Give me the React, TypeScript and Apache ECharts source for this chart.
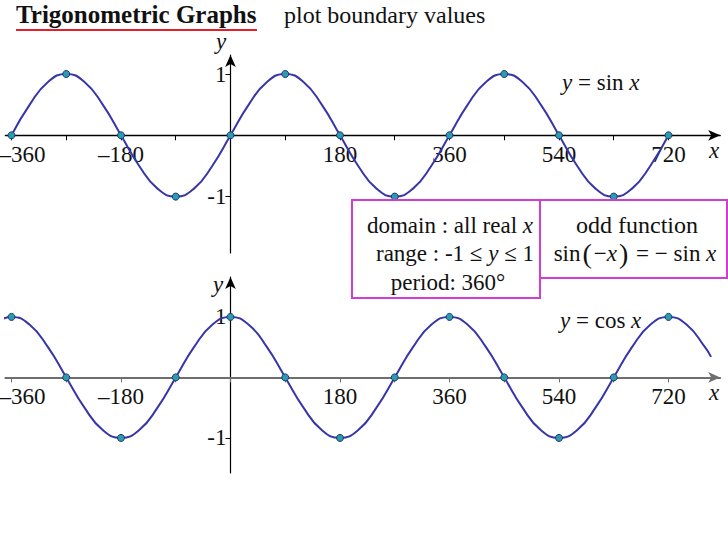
import React, { useEffect, useRef } from 'react';
import * as echarts from 'echarts';

// sampled points of y = sin x (degrees)
const sinX = [-360, -330, -300, -270, -240, -210, -180, -150, -120, -90, -60, -30, 0, 30, 60, 90, 120, 150, 180, 210, 240, 270, 300, 330, 360, 390, 420, 450, 480, 510, 540, 570, 600, 630, 660, 690, 720];
const sinY = [0, 0.5, 0.87, 1, 0.87, 0.5, 0, -0.5, -0.87, -1, -0.87, -0.5, 0, 0.5, 0.87, 1, 0.87, 0.5, 0, -0.5, -0.87, -1, -0.87, -0.5, 0, 0.5, 0.87, 1, 0.87, 0.5, 0, -0.5, -0.87, -1, -0.87, -0.5, 0];
// sampled points of y = cos x (degrees)
const cosX = [-380, -360, -330, -300, -270, -240, -210, -180, -150, -120, -90, -60, -30, 0, 30, 60, 90, 120, 150, 180, 210, 240, 270, 300, 330, 360, 390, 420, 450, 480, 510, 540, 570, 600, 630, 660, 690, 720, 750, 780, 790];
const cosY = [0.94, 1, 0.87, 0.5, 0, -0.5, -0.87, -1, -0.87, -0.5, 0, 0.5, 0.87, 1, 0.87, 0.5, 0, -0.5, -0.87, -1, -0.87, -0.5, 0, 0.5, 0.87, 1, 0.87, 0.5, 0, -0.5, -0.87, -1, -0.87, -0.5, 0, 0.5, 0.87, 1, 0.87, 0.5, 0.34];
// boundary values (plotted points)
const boundaryX = [-360, -270, -180, -90, 0, 90, 180, 270, 360, 450, 540, 630, 720];
const sinBoundaryY = [0, 1, 0, -1, 0, 1, 0, -1, 0, 1, 0, -1, 0];
const cosBoundaryY = [1, 0, -1, 0, 1, 0, -1, 0, 1, 0, -1, 0, 1];
// axes
const xTickValues = [-360, -270, -180, -90, 0, 90, 180, 270, 360, 450, 540, 630, 720];
const xLabelValues = [-360, -180, 180, 360, 540, 720];
const xLabelTexts = ['–360', '–180', '180', '360', '540', '720'];
const yLabelValues = [-1, 1];
const yLabelTexts = ['-1', '1'];

const SERIF = "'Liberation Serif', 'Times New Roman', serif";
const LINE = '#3636a8';
const DOT = '#2a9cac';
const DOT_BORDER = '#1f3478';
const MAGENTA = '#d33cd3';

const X_MIN = -370;
const X_MAX = 805;
const GRID_LEFT = 5.4;
const GRID_WIDTH = 714.8;
const G1 = { top: 55, height: 198, min: -1.92, max: 1.31 };
const G2 = { top: 277, height: 196, min: -1.58, max: 1.66 };

function xAxisDef(gridIndex: number, g: typeof G1, color: string, width: number) {
  const offset = -(g.height * (-g.min)) / (g.max - g.min);
  return {
    type: 'value',
    gridIndex,
    min: X_MIN,
    max: X_MAX,
    position: 'bottom',
    offset,
    axisLine: {
      onZero: false,
      symbol: ['none', 'arrow'],
      symbolSize: [8, 12],
      lineStyle: { color, width },
    },
    axisTick: { customValues: xTickValues, length: 5, lineStyle: { color, width: 1 } },
    axisLabel: {
      customValues: xLabelValues,
      margin: 8,
      color: '#111',
      fontFamily: SERIF,
      fontSize: 23,
      formatter: (v: number) => {
        const i = xLabelValues.indexOf(v);
        const t = i >= 0 ? xLabelTexts[i] : '';
        return v === -360 ? '{m|' + t + '}' : t;
      },
      rich: { m: { padding: [0, 0, 0, 22], fontFamily: SERIF, fontSize: 23, color: '#111' } },
    },
    splitLine: { show: false },
  };
}

function yAxisDef(gridIndex: number, g: typeof G1) {
  const offset = -((0 - X_MIN) / (X_MAX - X_MIN)) * GRID_WIDTH;
  return {
    type: 'value',
    gridIndex,
    min: g.min,
    max: g.max,
    position: 'left',
    offset,
    axisLine: {
      show: true,
      onZero: false,
      symbol: ['none', 'arrow'],
      symbolSize: [8, 12],
      lineStyle: { color: '#000', width: 1.2 },
    },
    axisTick: { show: true, customValues: yLabelValues, length: 5, lineStyle: { color: '#000' } },
    axisLabel: {
      customValues: yLabelValues,
      margin: 4,
      color: '#111',
      fontFamily: SERIF,
      fontSize: 23,
      formatter: (v: number) => {
        const i = yLabelValues.indexOf(v);
        return i >= 0 ? yLabelTexts[i] : '';
      },
    },
    splitLine: { show: false },
  };
}

function pairs(xs: number[], ys: number[]) {
  return xs.map((x, i) => [x, ys[i]]);
}

export default function App() {
  const ref = useRef<HTMLDivElement>(null);

  useEffect(() => {
    document.body.style.margin = '0';
    if (!ref.current) return;
    const chart = echarts.init(ref.current, null, { renderer: 'svg' });
    const FS = 23;
    const textBase = { fontFamily: SERIF, fontSize: FS, fill: '#111' };
    const it = { i: { fontStyle: 'italic', fontFamily: SERIF, fontSize: FS } };
    chart.setOption({
      animation: false,
      backgroundColor: '#fff',
      textStyle: { fontFamily: SERIF },
      title: {
        text: 'Trigonometric Graphs',
        left: 16,
        top: 2,
        padding: 0,
        textStyle: { fontFamily: SERIF, fontSize: 25, fontWeight: 'bold', color: '#111' },
      },
      grid: [
        { left: GRID_LEFT, width: GRID_WIDTH, top: G1.top, height: G1.height, outerBoundsMode: 'none', containLabel: false },
        { left: GRID_LEFT, width: GRID_WIDTH, top: G2.top, height: G2.height, outerBoundsMode: 'none', containLabel: false },
      ],
      xAxis: [xAxisDef(0, G1, '#000', 1.3), xAxisDef(1, G2, '#6e6e6e', 2)],
      yAxis: [yAxisDef(0, G1), yAxisDef(1, G2)],
      series: [
        {
          type: 'line',
          xAxisIndex: 0,
          yAxisIndex: 0,
          data: pairs(sinX, sinY),
          smooth: 0.5,
          showSymbol: false,
          clip: false,
          lineStyle: { color: LINE, width: 2 },
          z: 3,
        },
        {
          type: 'scatter',
          xAxisIndex: 0,
          yAxisIndex: 0,
          data: pairs(boundaryX, sinBoundaryY),
          symbolSize: 7,
          clip: false,
          itemStyle: { color: DOT, borderColor: DOT_BORDER, borderWidth: 1, opacity: 1 },
          z: 4,
        },
        {
          type: 'line',
          xAxisIndex: 1,
          yAxisIndex: 1,
          data: pairs(cosX, cosY),
          smooth: 0.5,
          showSymbol: false,
          clip: false,
          lineStyle: { color: LINE, width: 2 },
          z: 3,
        },
        {
          type: 'scatter',
          xAxisIndex: 1,
          yAxisIndex: 1,
          data: pairs(boundaryX, cosBoundaryY),
          symbolSize: 7,
          clip: false,
          itemStyle: { color: DOT, borderColor: DOT_BORDER, borderWidth: 1, opacity: 1 },
          z: 4,
        },
      ],
      graphic: [
        { type: 'line', z: 100, shape: { x1: 16, y1: 30, x2: 257, y2: 30 }, style: { stroke: '#e3202a', lineWidth: 2 } },
        { type: 'text', z: 100, x: 284, y: 15, style: { ...textBase, fontSize: 24, text: 'plot boundary values', verticalAlign: 'middle' } },
        { type: 'text', z: 100, x: 221, y: 41, style: { ...textBase, text: 'y', fontStyle: 'italic', align: 'center', verticalAlign: 'middle' } },
        { type: 'text', z: 100, x: 218, y: 284, style: { ...textBase, text: 'y', fontStyle: 'italic', align: 'center', verticalAlign: 'middle' } },
        { type: 'text', z: 100, x: 714, y: 150, style: { ...textBase, text: 'x', fontStyle: 'italic', align: 'center', verticalAlign: 'middle' } },
        { type: 'text', z: 100, x: 714, y: 392, style: { ...textBase, text: 'x', fontStyle: 'italic', align: 'center', verticalAlign: 'middle' } },
        { type: 'text', z: 100, x: 562, y: 82, style: { ...textBase, text: '{i|y} = sin {i|x}', verticalAlign: 'middle', rich: it } },
        { type: 'text', z: 100, x: 560, y: 320, style: { ...textBase, text: '{i|y} = cos {i|x}', verticalAlign: 'middle', rich: it } },
        { type: 'rect', z: 90, shape: { x: 352, y: 200, width: 188, height: 98 }, style: { fill: '#fff', stroke: MAGENTA, lineWidth: 2 } },
        { type: 'rect', z: 90, shape: { x: 540, y: 200, width: 187, height: 78 }, style: { fill: '#fff', stroke: MAGENTA, lineWidth: 2 } },
        { type: 'text', z: 100, x: 450, y: 225, style: { ...textBase, text: 'domain : all real {i|x}', align: 'center', verticalAlign: 'middle', rich: it } },
        { type: 'text', z: 100, x: 455, y: 253, style: { ...textBase, text: 'range : -1 ≤ {i|y} ≤ 1', align: 'center', verticalAlign: 'middle', rich: it } },
        { type: 'text', z: 100, x: 448, y: 282, style: { ...textBase, text: 'period: 360°', align: 'center', verticalAlign: 'middle' } },
        { type: 'text', z: 100, x: 637, y: 225, style: { ...textBase, fontSize: 24, text: 'odd function', align: 'center', verticalAlign: 'middle' } },
        {
          type: 'text', z: 100, x: 635, y: 253,
          style: {
            ...textBase,
            text: 'sin{p|(}−{i|x}{p|)} = − sin {i|x}',
            align: 'center',
            verticalAlign: 'middle',
            rich: { ...it, p: { fontFamily: SERIF, fontSize: 28, padding: [0, 2, 0, 2] } },
          },
        },
      ],
    });
    return () => chart.dispose();
  }, []);

  return <div ref={ref} style={{ width: 728, height: 546 }} />;
}
